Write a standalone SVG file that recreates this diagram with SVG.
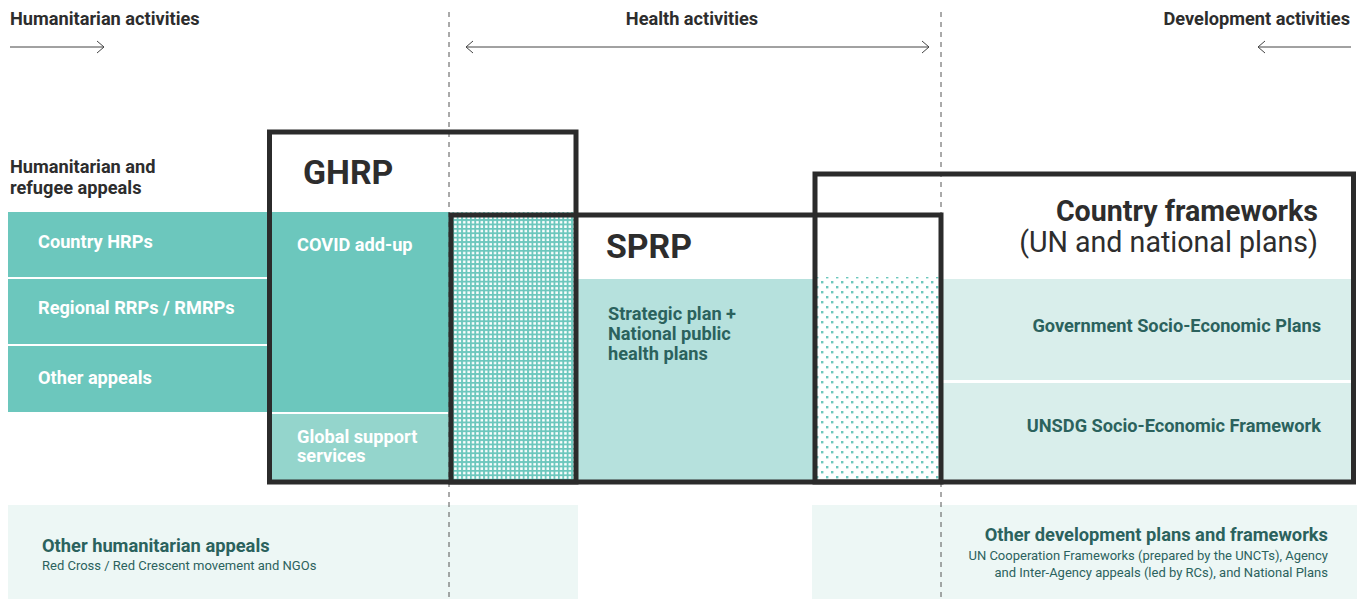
<svg xmlns="http://www.w3.org/2000/svg" width="1363" height="599" viewBox="0 0 1363 599">
<defs>
<style>
text{font-family:Roboto,"Liberation Sans",sans-serif}
.hd{font-size:18.2px;font-weight:700;fill:#2d2d2d}
.big{font-size:33.8px;font-weight:700;fill:#2d2d2d}
.wt{font-size:18.2px;font-weight:700;fill:#ffffff}
.dk{font-size:18.2px;font-weight:700;fill:#2b625d}
.dk2{font-size:18.3px;font-weight:700;fill:#2b625d}
.sm{font-size:13px;fill:#2b625d}
.box{fill:none;stroke:#2b2b2b;stroke-width:5}
.dash{stroke:#555;stroke-width:1;stroke-dasharray:5 5}
.arr{fill:none;stroke:#444;stroke-width:1}
.teal{fill:#6cc7bd}
</style>
<pattern id="dense" width="4.4" height="4.4" patternUnits="userSpaceOnUse">
<rect width="4.4" height="4.4" fill="#6cc7bd"/>
<rect x="1" y="1" width="2.5" height="2.5" fill="#ffffff"/>
</pattern>
<pattern id="sparse" width="10" height="10" patternUnits="userSpaceOnUse">
<rect width="10" height="10" fill="#ffffff"/>
<rect x="1" y="1" width="2.4" height="2.4" fill="#6cc7bd"/>
<rect x="6" y="6" width="2.4" height="2.4" fill="#6cc7bd"/>
</pattern>
</defs>
<rect width="1363" height="599" fill="#ffffff"/>

<g id="headers">
<text class="hd" x="10" y="25">Humanitarian activities</text>
<text class="hd" x="692" y="25" text-anchor="middle">Health activities</text>
<text class="hd" x="1350" y="25" text-anchor="end">Development activities</text>
</g>

<g id="left-appeals">
<text class="hd" x="10" y="173">Humanitarian and</text>
<text class="hd" x="10" y="194">refugee appeals</text>
<rect class="teal" x="8" y="212" width="262" height="65"/>
<rect class="teal" x="8" y="279" width="262" height="65"/>
<rect class="teal" x="8" y="346" width="262" height="66"/>
<text class="wt" x="38" y="248">Country HRPs</text>
<text class="wt" x="38" y="314">Regional RRPs / RMRPs</text>
<text class="wt" x="38" y="384">Other appeals</text>
</g>

<g id="bottom-boxes">
<rect x="8" y="505" width="570" height="94" fill="#edf7f5"/>
<text class="dk2" x="42" y="552">Other humanitarian appeals</text>
<text class="sm" x="42" y="570">Red Cross / Red Crescent movement and NGOs</text>
<rect x="812" y="505" width="545" height="94" fill="#edf7f5"/>
<text class="dk2" x="1328" y="541" text-anchor="end">Other development plans and frameworks</text>
<text class="sm" x="1328" y="560" text-anchor="end">UN Cooperation Frameworks (prepared by the UNCTs), Agency</text>
<text class="sm" x="1328" y="577" text-anchor="end">and Inter-Agency appeals (led by RCs), and National Plans</text>
</g>

<g id="fills">
<rect class="teal" x="270" y="212" width="180" height="200"/>
<rect x="270" y="414" width="180" height="66" fill="#94d5cc"/>
<rect x="450" y="212" width="124" height="268" fill="url(#dense)"/>
<rect x="577" y="279" width="236" height="201" fill="#b6e1dd"/>
<rect x="816" y="277" width="124" height="203" fill="url(#sparse)"/>
<rect x="942" y="279" width="410" height="101" fill="#d9eeeb"/>
<rect x="942" y="383" width="410" height="97" fill="#d9eeeb"/>
</g>

<g id="connectors">
<line class="dash" x1="449" y1="12" x2="449" y2="599"/>
<line class="dash" x1="941" y1="12" x2="941" y2="599"/>
<path class="arr" d="M10 47H104M97 41L104 47L97 53"/>
<path class="arr" d="M466 47H929M473 41L466 47L473 53M922 41L929 47L922 53"/>
<path class="arr" d="M1258 47H1351M1265 41L1258 47L1265 53"/>
</g>

<g id="ghrp">
<rect class="box" x="269.5" y="132" width="306.5" height="350"/>
<text class="big" x="303" y="184">GHRP</text>
<text class="wt" x="297" y="251">COVID add-up</text>
<text class="wt" x="297" y="443">Global support</text>
<text class="wt" x="297" y="462">services</text>
</g>

<g id="sprp">
<rect class="box" x="451" y="215" width="490" height="267"/>
<text class="big" x="606" y="258">SPRP</text>
<text class="dk" x="608" y="320">Strategic plan +</text>
<text class="dk" x="608" y="340">National public</text>
<text class="dk" x="608" y="360">health plans</text>
</g>

<g id="country-frameworks">
<rect class="box" x="815" y="174" width="538.5" height="308"/>
<text x="1318" y="221" text-anchor="end" style="font-size:28.6px;font-weight:700;fill:#2d2d2d">Country frameworks</text>
<text x="1318" y="252" text-anchor="end" style="font-size:28.6px;fill:#2d2d2d">(UN and national plans)</text>
<text class="dk" x="1321" y="332" text-anchor="end">Government Socio-Economic Plans</text>
<text class="dk" x="1321" y="432" text-anchor="end">UNSDG Socio-Economic Framework</text>
</g>
</svg>
